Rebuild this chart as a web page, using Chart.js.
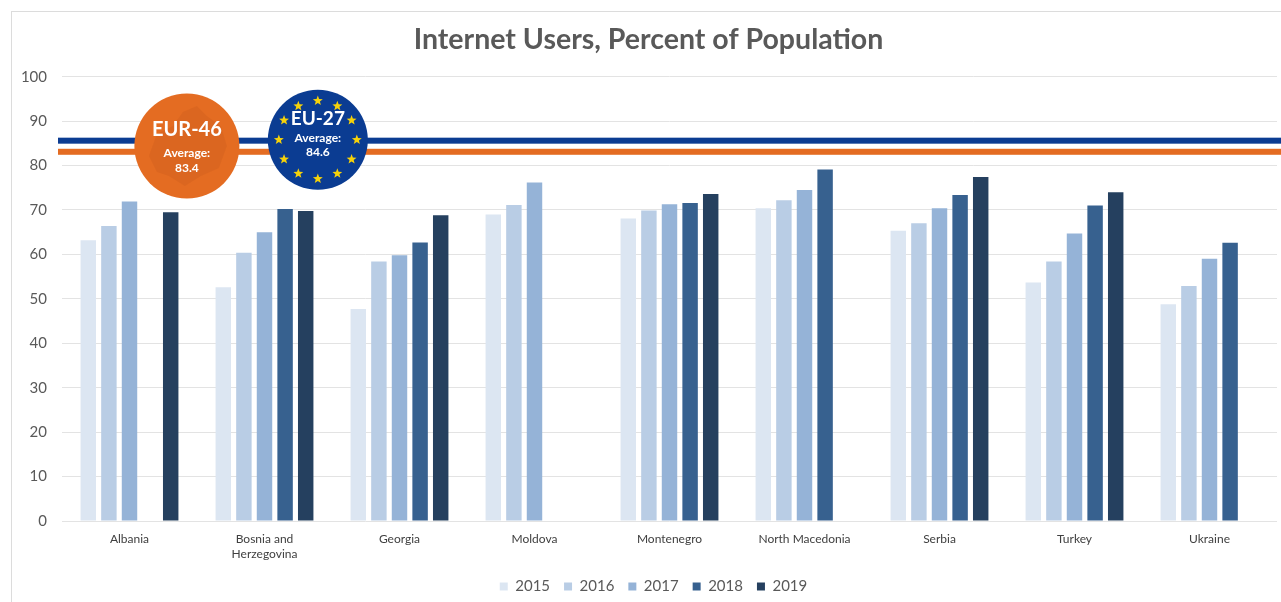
<!DOCTYPE html>
<html><head><meta charset="utf-8">
<script src="https://cdn.jsdelivr.net/npm/chart.js@4"></script>
<style>
html,body{margin:0;padding:0;background:#fff;overflow:hidden}
#frame{position:absolute;left:11px;top:11px;width:1300px;height:620px;border:1px solid #dcdcdc;box-sizing:border-box}
#wrap{position:absolute;left:0;top:0;width:1281px;height:602px}
</style></head><body>
<div id="frame"></div>
<div id="wrap"><canvas id="c" width="1281" height="602"></canvas></div>
<script>
const categories = ['Albania', ['Bosnia and', 'Herzegovina'], 'Georgia', 'Moldova', 'Montenegro', 'North Macedonia', 'Serbia', 'Turkey', 'Ukraine'];
const years = ['2015', '2016', '2017', '2018', '2019'];
const v2015 = [63.2, 52.6, 47.7, 69.0, 68.1, 70.4, 65.3, 53.7, 48.8];
const v2016 = [66.4, 60.4, 58.4, 71.1, 69.9, 72.2, 67.0, 58.4, 52.9];
const v2017 = [71.9, 65.0, 59.8, 76.2, 71.3, 74.5, 70.4, 64.7, 59.0];
const v2018 = [null, 70.2, 62.7, null, 71.6, 79.1, 73.4, 71.0, 62.6];
const v2019 = [69.5, 69.8, 68.8, null, 73.6, null, 77.4, 74.0, null];
const yMin = 0, yMax = 100, yStep = 10;
// reference lines (as drawn in the picture) and badge labels
const refLines = [
  {name: 'EU-27', value: 85.6, color: '#0b3c92'},
  {name: 'EUR-46', value: 83.1, color: '#e46c22'}
];
const badges = [
  {title: 'EUR-46', sub: 'Average:', avg: '83.4', cat: 0.425, value: 84.4, color: '#e46c22', stars: false},
  {title: 'EU-27', sub: 'Average:', avg: '84.6', cat: 1.395, value: 85.8, color: '#0b3c92', stars: true}
];
const seriesColors = ['#dce6f2', '#b9cde5', '#95b3d7', '#37618f', '#25405f'];
const seriesData = [v2015, v2016, v2017, v2018, v2019];

const FONT = 'Lato, "Open Sans", sans-serif';

function star(ctx, cx, cy, ro, ri) {
  ctx.beginPath();
  for (let i = 0; i < 10; i++) {
    const r = i % 2 === 0 ? ro : ri;
    const a = -Math.PI / 2 + i * Math.PI / 5;
    const x = cx + r * Math.cos(a), y = cy + r * Math.sin(a);
    if (i === 0) ctx.moveTo(x, y); else ctx.lineTo(x, y);
  }
  ctx.closePath();
  ctx.fill();
}

const refPlugin = {
  id: 'refs',
  afterLayout(chart) {
    if (chart.legend) { chart.legend.left += 5; chart.legend.right += 5; chart.legend.top += 2; chart.legend.bottom += 2; }
  },
  afterDraw(chart) {
    const ctx = chart.ctx, xs = chart.scales.x, ys = chart.scales.y, ca = chart.chartArea;
    ctx.save();
    refLines.forEach(l => {
      const y = ys.getPixelForValue(l.value);
      ctx.fillStyle = l.color;
      ctx.fillRect(ca.left - 4, y - 3, chart.width - ca.left + 4, 6);
    });
    badges.forEach(b => {
      const cx = xs.getPixelForValue(b.cat);
      const cy = ys.getPixelForValue(b.value);
      const r = b.stars ? 50 : 52.5;
      ctx.beginPath();
      ctx.arc(cx, cy, r, 0, Math.PI * 2);
      ctx.fillStyle = b.color;
      ctx.fill();
      if (b.stars) {
        ctx.fillStyle = '#f6d20a';
        for (let i = 0; i < 12; i++) {
          const a = -Math.PI / 2 + i * Math.PI / 6;
          star(ctx, cx + 39 * Math.cos(a), cy + 39 * Math.sin(a), 5.2, 2.2);
        }
      } else {
        ctx.fillStyle = 'rgba(170,70,20,0.14)';
        ctx.beginPath();
        ctx.moveTo(cx - 38, cy + 10); ctx.lineTo(cx - 30, cy - 12); ctx.lineTo(cx - 14, cy - 20);
        ctx.lineTo(cx - 4, cy - 34); ctx.lineTo(cx + 10, cy - 40); ctx.lineTo(cx + 20, cy - 30);
        ctx.lineTo(cx + 34, cy - 20); ctx.lineTo(cx + 40, cy); ctx.lineTo(cx + 32, cy + 22);
        ctx.lineTo(cx + 14, cy + 30); ctx.lineTo(cx - 2, cy + 40); ctx.lineTo(cx - 18, cy + 30);
        ctx.lineTo(cx - 30, cy + 26);
        ctx.closePath(); ctx.fill();
      }
      ctx.fillStyle = '#ffffff';
      ctx.textAlign = 'center';
      ctx.textBaseline = 'middle';
      ctx.font = 'bold ' + (b.stars ? 19 : 20) + 'px ' + FONT;
      ctx.fillText(b.title, cx, cy - (b.stars ? 21 : 16));
      ctx.font = 'bold 12px ' + FONT;
      ctx.fillText(b.sub, cx, cy + (b.stars ? -2 : 7));
      ctx.fillText(b.avg, cx, cy + (b.stars ? 12 : 22));
    });
    ctx.restore();
  }
};

new Chart(document.getElementById('c'), {
  type: 'bar',
  data: {
    labels: categories,
    datasets: years.map((y, i) => ({
      label: y,
      data: seriesData[i],
      backgroundColor: seriesColors[i],
      borderWidth: 0,
      categoryPercentage: 0.763,
      barPercentage: 0.75
    }))
  },
  options: {
    responsive: false,
    animation: false,
    layout: {padding: {left: 20, right: 4, top: 0, bottom: 0}},
    plugins: {
      tooltip: {enabled: false},
      title: {
        display: true,
        text: 'Internet Users, Percent of Population',
        color: '#595959',
        font: {family: FONT, size: 28.5, weight: 'bold'},
        padding: {top: 23, bottom: 19.5}
      },
      legend: {
        position: 'bottom',
        labels: {
          boxWidth: 8, boxHeight: 8, padding: 14,
          color: '#595959',
          font: {family: FONT, size: 15}
        }
      }
    },
    scales: {
      x: {
        grid: {display: false, drawTicks: false},
        border: {display: false},
        ticks: {color: '#404040', font: {family: FONT, size: 12, lineHeight: 1.25}, padding: 11, maxRotation: 0, autoSkip: false},
        afterFit(s) { s.height = 42; }
      },
      y: {
        min: yMin, max: yMax,
        grid: {color: '#e3e3e3', lineWidth: 1, drawTicks: false},
        border: {display: false},
        ticks: {stepSize: yStep, color: '#595959', font: {family: FONT, size: 15}, padding: 15},
        afterFit(s) { s.width = 42; }
      }
    }
  },
  plugins: [refPlugin]
});
</script>
</body></html>
